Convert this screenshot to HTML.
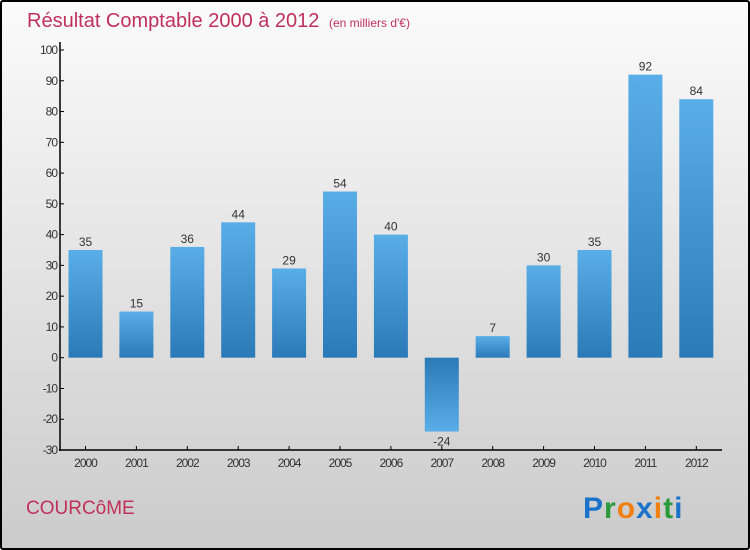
<!DOCTYPE html>
<html><head><meta charset="utf-8"><style>
html,body{margin:0;padding:0}
body{width:750px;height:550px;overflow:hidden;font-family:"Liberation Sans",sans-serif}
#frame{position:absolute;left:0;top:0;width:746px;height:546px;border:2px solid #000;border-radius:3px;background:linear-gradient(#fbfbfb,#cbcbcb)}
</style></head><body>
<div id="frame"></div>
<svg id="chart" width="750" height="550" style="position:absolute;left:0;top:0">
<defs><linearGradient id="bg" x1="0" y1="0" x2="0" y2="1"><stop offset="0" stop-color="#5aaee8"/><stop offset="1" stop-color="#2a7ab8"/></linearGradient>
<linearGradient id="bgn" x1="0" y1="0" x2="0" y2="1"><stop offset="0" stop-color="#2a7ab8"/><stop offset="1" stop-color="#5aaee8"/></linearGradient></defs>
<text x="27" y="27" font-size="20" fill="#c0305e">Résultat Comptable 2000 à 2012 <tspan font-size="12" dx="4">(en milliers d'€)</tspan></text>
<text x="26" y="514" font-size="19" fill="#c0305e">COURCôME</text>
<text x="583" y="518" font-size="30" font-weight="bold" letter-spacing="1"><tspan fill="#1a73c8">P</tspan><tspan fill="#2a9a3a">r</tspan><tspan fill="#f08010">o</tspan><tspan fill="#1a73c8">x</tspan><tspan fill="#f08010">i</tspan><tspan fill="#2a9a3a">t</tspan><tspan fill="#1a73c8">i</tspan></text>
<g id="plot"></g>
</svg>
<script>
const categories=["2000","2001","2002","2003","2004","2005","2006","2007","2008","2009","2010","2011","2012"];
const values=[35,15,36,44,29,54,40,-24,7,30,35,92,84];
const yTicks=[100,90,80,70,60,50,40,30,20,10,0,-10,-20,-30];
const NS="http://www.w3.org/2000/svg";
const g=document.getElementById('plot');
const y=v=>357.7-v*3.077;
const x=i=>85.5+i*50.9;
function mk(t,a,txt){const e=document.createElementNS(NS,t);for(const k in a)e.setAttribute(k,a[k]);if(txt!==undefined)e.textContent=txt;g.appendChild(e);return e;}
let ax=mk('line',{x1:60,y1:42,x2:60,y2:451,stroke:'#000','stroke-width':1.5});


let xx=mk('line',{x1:59,y1:450,x2:722,y2:450,stroke:'#000','stroke-width':1.5});


yTicks.forEach(v=>{
 mk('line',{x1:60,y1:y(v),x2:64,y2:y(v),stroke:'#000'});
 const t=mk('text',{x:57,y:y(v)+4,'font-size':12,fill:'#333','text-anchor':'end','letter-spacing':'-1'},v);
 
 
});
categories.forEach((c,i)=>{
 mk('line',{x1:x(i),y1:446,x2:x(i),y2:450,stroke:'#000'});
 const t=mk('text',{x:x(i),y:467,'font-size':12,fill:'#333','text-anchor':'middle','letter-spacing':'-1'},c);
 
 
 const v=values[i],top=Math.min(y(v),y(0)),h=Math.abs(y(v)-y(0));
 const b=mk('rect',{x:x(i)-17,y:top,width:34,height:h,fill:v>=0?'url(#bg)':'url(#bgn)'});
 
 
 const l=mk('text',{x:x(i),y:v>=0?y(v)-4:y(v)+14,'font-size':12,fill:'#333','text-anchor':'middle'},v);
 
 
});
</script>
</body></html>
